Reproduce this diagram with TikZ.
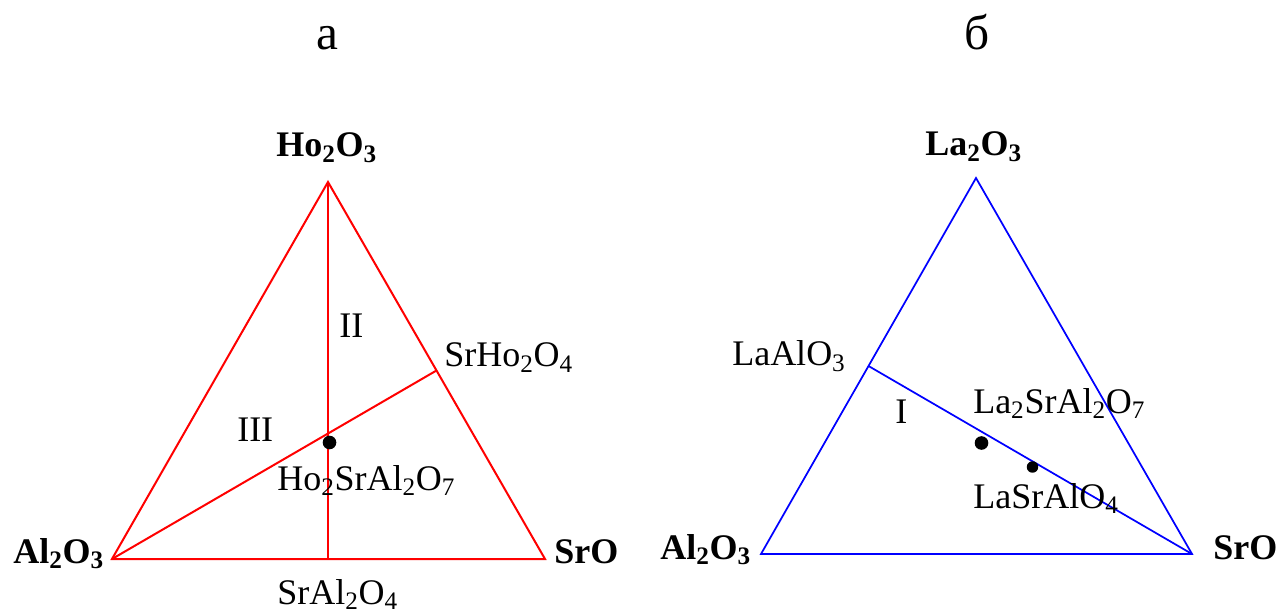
\documentclass[tikz,border=0pt]{standalone}
\usepackage{fontspec}
\setmainfont{Liberation Serif}
\usetikzlibrary{calc}
\newcommand{\sbs}[1]{\textsubscript{#1}}
\begin{document}
\begin{tikzpicture}[x=0.75pt,y=-0.75pt,
  lbl/.style={anchor=base west, inner sep=0pt, font=\fontsize{27}{32}\selectfont},
  blbl/.style={anchor=base west, inner sep=0pt, font=\fontsize{27}{32}\selectfont\bfseries},
  head/.style={anchor=base west, inner sep=0pt, font=\fontsize{37}{44}\selectfont},
  redline/.style={draw=red, line width=1.5pt},
  blueline/.style={draw=blue, line width=1.3pt},
  dot/.style={circle, fill=black, inner sep=0pt, minimum size=10.2pt},
  sdot/.style={circle, fill=black, inner sep=0pt, minimum size=8.6pt}]
\useasboundingbox (0,0) rectangle (1281,616);

% headings
\node[head] (ha) at (316,50) {а};
\node[head] (hb) at (964,50) {б};

% ---- left diagram (Ho2O3 - Al2O3 - SrO)
\coordinate (hoA) at (112,559);
\coordinate (hoS) at (545,559);
\coordinate (hoT) at (328,182);
\coordinate (hoB) at (328,559);
\coordinate (hoM) at ($(hoT)!0.5!(hoS)$);
\draw[redline] (hoA) -- (hoS) -- (hoT) -- cycle;
\draw[redline] (hoT) -- (hoB);
\draw[redline] (hoA) -- (hoM);
\node[dot] (hoD) at (329.5,442.5) {};

\node[blbl] (lHo) at (276,157) {Ho\sbs{2}O\sbs{3}};
\node[blbl] (lAl) at (13,563) {Al\sbs{2}O\sbs{3}};
\node[blbl] (lSr) at (554,563) {SrO};
\node[lbl] (lSA) at (277,604) {SrAl\sbs{2}O\sbs{4}};
\node[lbl] (lSH) at (444,367) {SrHo\sbs{2}O\sbs{4}};
\node[lbl] (lII) at (339,338) {II};
\node[lbl] (lIII) at (237,441.5) {III};
\node[lbl] (lHS) at (277,490) {Ho\sbs{2}SrAl\sbs{2}O\sbs{7}};

% ---- right diagram (La2O3 - Al2O3 - SrO)
\coordinate (laA) at (761,554);
\coordinate (laS) at (1192,554);
\coordinate (laT) at (976,178);
\coordinate (laM) at ($(laA)!0.5!(laT)$);
\draw[blueline] (laA) -- (laS) -- (laT) -- cycle;
\draw[blueline] (laM) -- (laS);
\node[dot] (laD1) at (981.5,443) {};
\node[sdot] (laD2) at (1032.5,467) {};

\node[blbl] (rLa) at (925,156) {La\sbs{2}O\sbs{3}};
\node[blbl] (rAl) at (660,559) {Al\sbs{2}O\sbs{3}};
\node[blbl] (rSr) at (1213,559) {SrO};
\node[lbl] (rLA) at (732,366) {LaAlO\sbs{3}};
\node[lbl] (rI) at (895,423) {I};
\node[lbl] (rL2) at (973,413) {La\sbs{2}SrAl\sbs{2}O\sbs{7}};
\node[lbl] (rLS) at (973,508) {LaSrAlO\sbs{4}};
\end{tikzpicture}
\end{document}
